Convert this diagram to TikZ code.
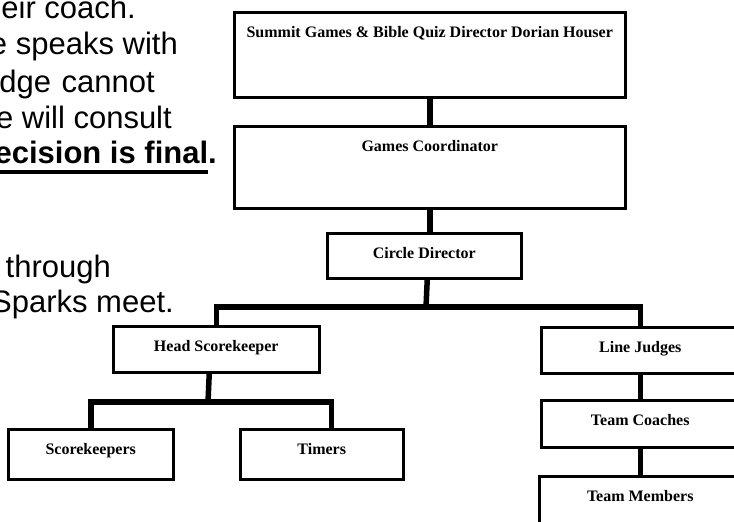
\documentclass[tikz,border=0pt]{standalone}
\usepackage{fontspec}
\setmainfont{Liberation Serif}
\newfontfamily\arialfont{Liberation Sans}
\newcommand\heavyul[1]{\setbox0\hbox{#1}\rlap{\rule[-11pt]{\wd0}{4pt}}\box0}

\begin{document}
\begin{tikzpicture}[x=1pt, y=-1pt,
                    onode/.style = {shape = rectangle,
                                    color = black,
                                    line width = 2.5pt,
                                    inner sep = 0pt,
                                    text height = 25pt,
                                    anchor = north west,
                                    font = \bfseries\fontsize{16}{19}\selectfont,
                                    draw},
                    tnode/.style = {anchor = base east,
                                    inner sep = 0pt,
                                    font = \arialfont\fontsize{31}{37}\selectfont},
                    link/.style = {line width = 5.5pt,
                                   line join = miter}]
		\useasboundingbox (0,0) rectangle (734,522);
		\clip (0,0) rectangle (734,522);
		% text of the page, cut at the left
		\node[tnode] (t1) at (136,18) {eir coach.};
		\node[tnode] (t2) at (178,54) {e speaks with};
		\node[tnode] (t3) at (155,92) {dge\hspace{2pt} cannot};
		\node[tnode] (t4) at (172,128) {e will consult};
		\node[tnode] (t5) at (217,163) {\bfseries\heavyul{ecision is final}.};
		\node[tnode] (t6) at (111,277) {through};
		\node[tnode] (t7) at (174,312) {Sparks meet.};
		% chart
		\node[onode, minimum width=391pt, text depth=60pt] (1) at (233,11) {Summit Games \& Bible Quiz Director Dorian Houser};
		\node[onode, minimum width=391pt, text depth=57pt] (2) at (233,125) {Games Coordinator};
		\node[onode, minimum width=194pt, text depth=20pt] (3) at (326,232) {Circle Director};
		\node[onode, minimum width=206pt, text depth=21pt] (4) at (112,325) {Head Scorekeeper};
		\node[onode, minimum width=198pt, text depth=21pt] (5) at (540,326) {Line Judges};
		\node[onode, minimum width=165pt, text depth=25pt] (6) at (7,428) {Scorekeepers};
		\node[onode, minimum width=163pt, text depth=25pt] (7) at (239,428) {Timers};
		\node[onode, minimum width=198pt, text depth=22pt] (8) at (540,399) {Team Coaches};
		\node[onode, minimum width=202pt, text depth=45pt] (9) at (538,475) {Team Members};
		\coordinate (bus) at (426,307);
		\coordinate (sbus) at (208,402);
		\coordinate (tdrop) at ([xshift=9.5pt]7.north);
		\path[link] (1) edge (2);
		\draw[link] (2.south) -- (2.south |- 3.north);
		\draw[link] ([xshift=3pt]3.south) -- (bus);
		\draw[link] (4.north) -- (4.north |- bus) -- (5.north |- bus) -- (5.north);
		\path[link] (5) edge (8);
		\path[link] (8) edge (9);
		\draw[link] ([xshift=-7pt]4.south) -- (sbus);
		\draw[link] (6.north) -- (6.north |- sbus) -- (tdrop |- sbus) -- (tdrop);
	\end{tikzpicture}
\end{document}
